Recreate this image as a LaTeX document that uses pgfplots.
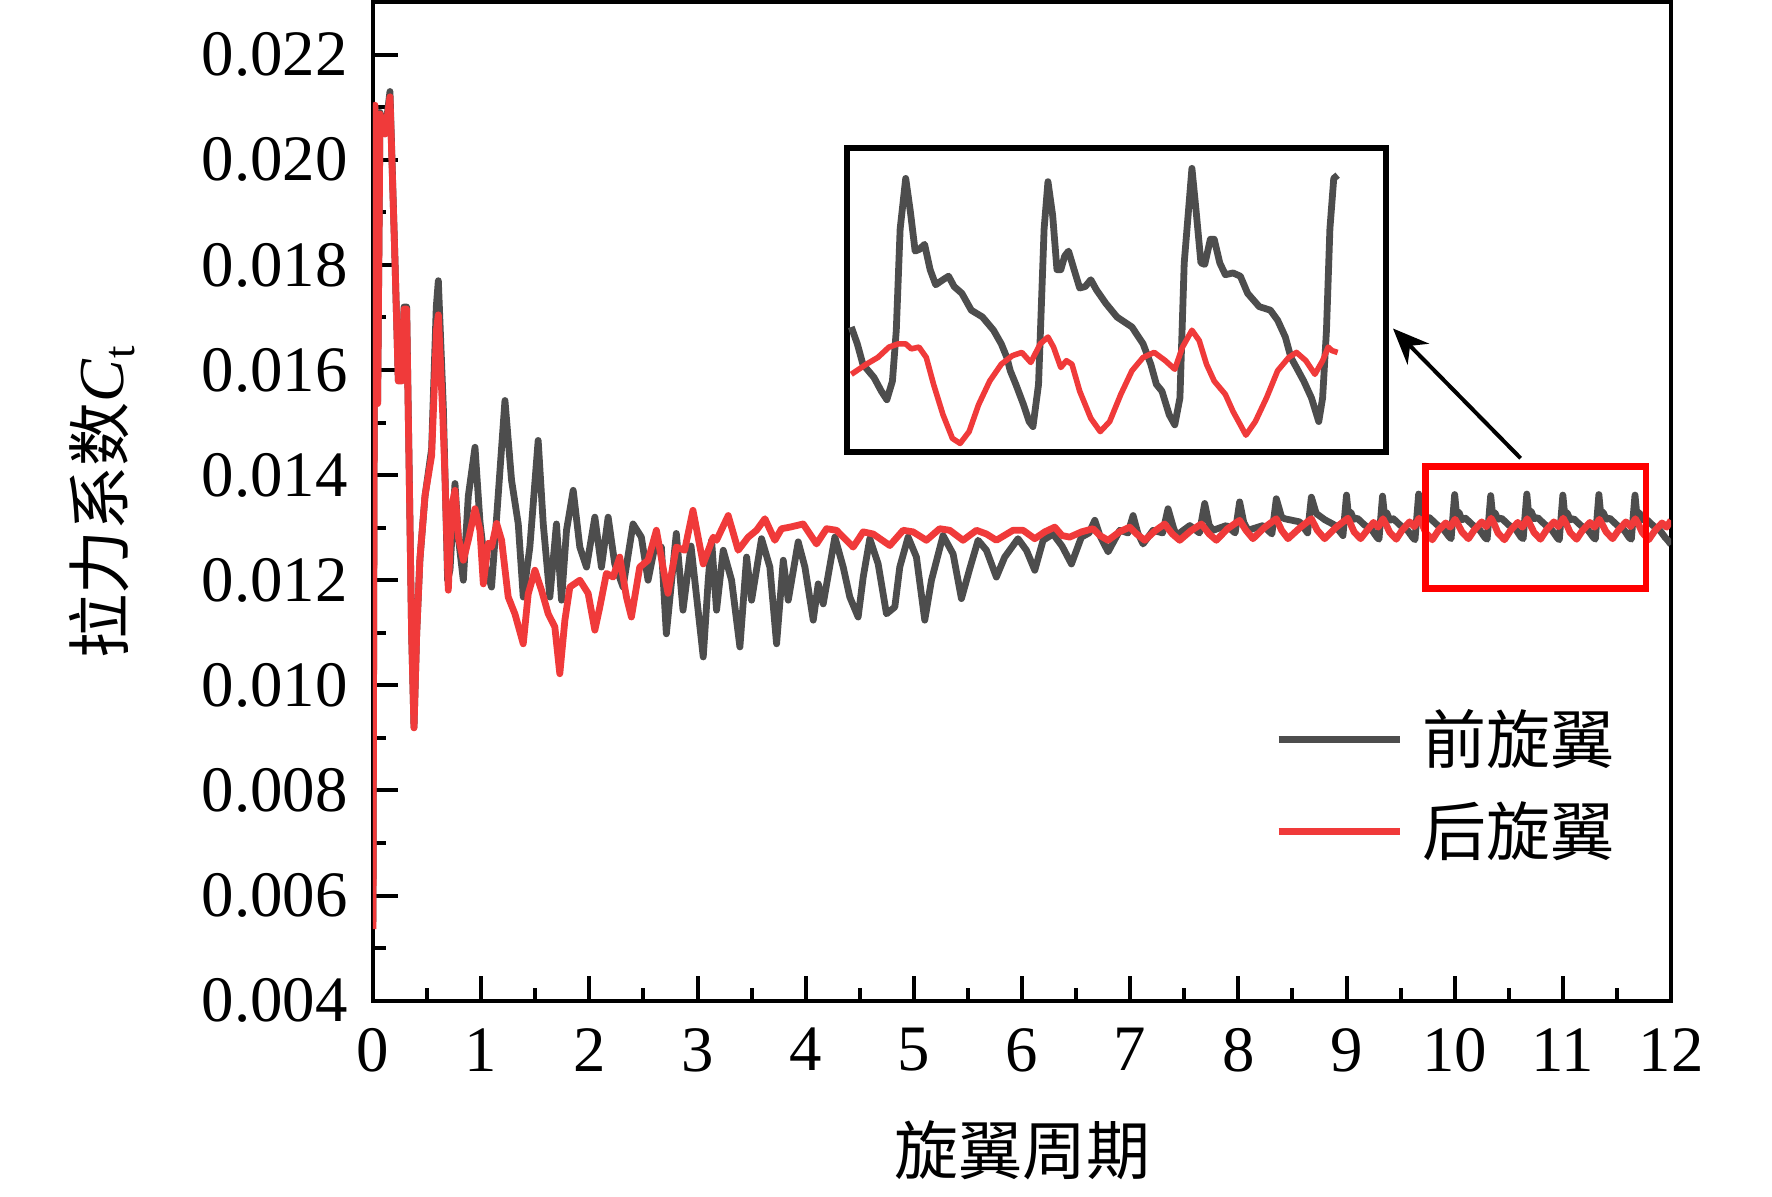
\documentclass[border=0pt]{standalone}
\usepackage{fontspec}
\setmainfont{Liberation Serif}
\newfontfamily\cjk{Noto Sans CJK SC}
\usepackage{pgfplots}
\usepackage{pgfplotstable}
\pgfplotsset{compat=1.18}
\usetikzlibrary{arrows.meta}
\definecolor{cgray}{RGB}{77,77,77}
\definecolor{cred}{RGB}{240,58,58}

\pgfplotstableread{
x y
0.000 0.00550
0.018 0.02100
0.043 0.01540
0.065 0.02090
0.111 0.02050
0.157 0.02130
0.203 0.01810
0.234 0.01580
0.265 0.01580
0.287 0.01720
0.311 0.01720
0.333 0.01430
0.357 0.01100
0.379 0.00920
0.404 0.01100
0.434 0.01240
0.481 0.01360
0.542 0.01450
0.585 0.01720
0.604 0.01770
0.650 0.01530
0.690 0.01200
0.712 0.01220
0.758 0.01384
0.789 0.01282
0.835 0.01200
0.881 0.01360
0.943 0.01453
0.989 0.01311
1.035 0.01230
1.096 0.01187
1.143 0.01320
1.220 0.01542
1.281 0.01390
1.343 0.01307
1.389 0.01168
1.450 0.01263
1.527 0.01466
1.574 0.01307
1.635 0.01168
1.696 0.01307
1.743 0.01162
1.789 0.01295
1.851 0.01371
1.912 0.01263
1.974 0.01225
2.051 0.01320
2.112 0.01225
2.174 0.01320
2.235 0.01231
2.312 0.01187
2.404 0.01307
2.481 0.01282
2.543 0.01200
2.604 0.01263
2.666 0.01263
2.712 0.01098
2.804 0.01289
2.866 0.01143
2.940 0.01265
3.053 0.01054
3.099 0.01200
3.130 0.01276
3.176 0.01143
3.238 0.01257
3.315 0.01200
3.392 0.01073
3.454 0.01244
3.500 0.01162
3.592 0.01279
3.669 0.01225
3.731 0.01079
3.793 0.01238
3.839 0.01162
3.931 0.01273
3.993 0.01225
4.070 0.01124
4.116 0.01193
4.162 0.01155
4.270 0.01282
4.347 0.01225
4.408 0.01168
4.485 0.01130
4.532 0.01206
4.593 0.01279
4.670 0.01231
4.747 0.01136
4.824 0.01149
4.870 0.01225
4.947 0.01282
5.024 0.01244
5.101 0.01124
5.163 0.01200
5.270 0.01285
5.363 0.01250
5.440 0.01165
5.517 0.01222
5.594 0.01276
5.671 0.01257
5.763 0.01206
5.840 0.01244
5.963 0.01279
6.041 0.01257
6.118 0.01219
6.195 0.01276
6.287 0.01288
6.370 0.01265
6.457 0.01231
6.549 0.01282
6.620 0.01290
6.673 0.01314
6.720 0.01285
6.796 0.01254
6.904 0.01295
6.980 0.01290
7.027 0.01323
7.070 0.01290
7.119 0.01269
7.212 0.01295
7.300 0.01290
7.350 0.01336
7.400 0.01300
7.427 0.01285
7.551 0.01304
7.640 0.01290
7.689 0.01346
7.730 0.01305
7.766 0.01295
7.889 0.01304
7.970 0.01290
8.012 0.01349
8.050 0.01310
8.089 0.01295
8.228 0.01304
8.310 0.01288
8.351 0.01355
8.400 0.01320
8.428 0.01317
8.567 0.01311
8.640 0.01290
8.675 0.01358
8.720 0.01327
8.800 0.01315
8.890 0.01305
8.967 0.01285
9.000 0.01362
9.017 0.01325
9.040 0.01329
9.067 0.01316
9.100 0.01318
9.167 0.01305
9.233 0.01296
9.280 0.01282
9.300 0.01278
9.333 0.01360
9.350 0.01326
9.373 0.01328
9.400 0.01314
9.433 0.01317
9.500 0.01304
9.567 0.01294
9.613 0.01281
9.633 0.01277
9.667 0.01364
9.684 0.01327
9.707 0.01330
9.734 0.01316
9.767 0.01319
9.834 0.01306
9.900 0.01296
9.947 0.01283
9.967 0.01279
10.000 0.01363
10.017 0.01326
10.040 0.01329
10.067 0.01315
10.100 0.01318
10.167 0.01305
10.233 0.01295
10.280 0.01281
10.300 0.01278
10.333 0.01361
10.350 0.01325
10.373 0.01328
10.400 0.01316
10.433 0.01318
10.500 0.01305
10.567 0.01296
10.613 0.01282
10.633 0.01279
10.667 0.01364
10.684 0.01326
10.707 0.01331
10.734 0.01317
10.767 0.01319
10.834 0.01306
10.900 0.01295
10.947 0.01281
10.967 0.01277
11.000 0.01362
11.017 0.01325
11.040 0.01328
11.067 0.01315
11.100 0.01317
11.167 0.01304
11.233 0.01295
11.280 0.01282
11.300 0.01278
11.333 0.01363
11.350 0.01326
11.373 0.01329
11.400 0.01316
11.433 0.01318
11.500 0.01305
11.567 0.01295
11.613 0.01281
11.633 0.01278
11.667 0.01362
11.684 0.01325
11.707 0.01328
11.734 0.01315
11.767 0.01317
11.834 0.01304
11.900 0.01294
11.947 0.01281
11.970 0.01276
12.000 0.01268
}\graydata

\pgfplotstableread{
x y
0.000 0.00536
0.018 0.02104
0.043 0.01536
0.065 0.02087
0.111 0.02049
0.157 0.02120
0.203 0.01809
0.234 0.01579
0.265 0.01579
0.287 0.01716
0.311 0.01716
0.333 0.01427
0.357 0.01099
0.379 0.00919
0.404 0.01099
0.434 0.01241
0.481 0.01361
0.542 0.01437
0.588 0.01678
0.604 0.01705
0.645 0.01514
0.665 0.01400
0.696 0.01181
0.727 0.01339
0.758 0.01371
0.789 0.01282
0.835 0.01238
0.881 0.01276
0.943 0.01336
0.989 0.01295
1.020 0.01193
1.066 0.01270
1.096 0.01263
1.143 0.01308
1.189 0.01276
1.250 0.01168
1.312 0.01136
1.389 0.01079
1.435 0.01174
1.497 0.01219
1.558 0.01181
1.620 0.01136
1.681 0.01111
1.727 0.01022
1.774 0.01124
1.820 0.01187
1.912 0.01200
1.989 0.01175
2.051 0.01105
2.097 0.01149
2.158 0.01213
2.220 0.01206
2.281 0.01244
2.343 0.01168
2.389 0.01130
2.466 0.01225
2.543 0.01238
2.620 0.01295
2.681 0.01225
2.727 0.01175
2.804 0.01263
2.881 0.01257
2.958 0.01333
3.053 0.01231
3.146 0.01282
3.176 0.01276
3.284 0.01323
3.376 0.01257
3.469 0.01282
3.546 0.01295
3.623 0.01317
3.715 0.01276
3.777 0.01298
3.854 0.01301
3.977 0.01307
4.100 0.01269
4.193 0.01298
4.285 0.01295
4.439 0.01263
4.532 0.01292
4.624 0.01288
4.778 0.01266
4.901 0.01295
4.993 0.01292
5.116 0.01276
5.239 0.01298
5.332 0.01295
5.455 0.01276
5.579 0.01295
5.671 0.01288
5.763 0.01276
5.917 0.01295
6.010 0.01295
6.118 0.01279
6.210 0.01292
6.303 0.01301
6.370 0.01285
6.441 0.01282
6.550 0.01292
6.657 0.01298
6.720 0.01285
6.796 0.01276
6.900 0.01292
6.996 0.01301
7.060 0.01288
7.135 0.01276
7.230 0.01294
7.319 0.01307
7.390 0.01288
7.458 0.01276
7.560 0.01294
7.658 0.01307
7.730 0.01288
7.797 0.01276
7.900 0.01298
8.012 0.01314
8.070 0.01295
8.135 0.01279
8.240 0.01300
8.351 0.01317
8.400 0.01295
8.459 0.01279
8.570 0.01300
8.675 0.01317
8.730 0.01295
8.798 0.01279
8.900 0.01300
9.013 0.01318
9.040 0.01306
9.070 0.01292
9.130 0.01279
9.187 0.01294
9.250 0.01310
9.293 0.01301
9.337 0.01317
9.370 0.01304
9.400 0.01291
9.460 0.01278
9.517 0.01296
9.583 0.01311
9.627 0.01302
9.670 0.01318
9.703 0.01305
9.733 0.01290
9.793 0.01277
9.850 0.01295
9.917 0.01309
9.960 0.01301
10.003 0.01316
10.037 0.01304
10.067 0.01292
10.127 0.01279
10.183 0.01296
10.250 0.01311
10.293 0.01302
10.337 0.01318
10.370 0.01305
10.400 0.01290
10.460 0.01277
10.517 0.01295
10.583 0.01310
10.627 0.01301
10.670 0.01317
10.703 0.01304
10.733 0.01291
10.793 0.01278
10.850 0.01296
10.917 0.01311
10.960 0.01302
11.003 0.01318
11.037 0.01305
11.067 0.01291
11.127 0.01278
11.183 0.01295
11.250 0.01310
11.293 0.01301
11.337 0.01316
11.370 0.01304
11.400 0.01292
11.460 0.01279
11.517 0.01296
11.583 0.01311
11.627 0.01302
11.670 0.01317
11.703 0.01305
11.733 0.01291
11.793 0.01277
11.850 0.01294
11.917 0.01309
11.960 0.01301
12.000 0.01314
}\reddata

\pgfplotstableread{
x y
9.873 0.013117
9.887 0.013060
9.900 0.012991
9.926 0.012946
9.943 0.012900
9.956 0.012871
9.969 0.012934
9.978 0.013106
9.987 0.013449
10.000 0.013620
10.011 0.013506
10.022 0.013374
10.032 0.013380
10.044 0.013397
10.057 0.013311
10.070 0.013260
10.087 0.013277
10.100 0.013289
10.113 0.013254
10.131 0.013231
10.153 0.013174
10.179 0.013151
10.205 0.013106
10.223 0.013060
10.236 0.013014
10.244 0.012969
10.257 0.012923
10.275 0.012854
10.288 0.012797
10.297 0.012780
10.310 0.012923
10.323 0.013449
10.332 0.013609
10.343 0.013494
10.353 0.013311
10.362 0.013311
10.371 0.013357
10.380 0.013374
10.393 0.013311
10.406 0.013249
10.419 0.013254
10.432 0.013277
10.445 0.013243
10.467 0.013197
10.493 0.013151
10.528 0.013117
10.554 0.013060
10.572 0.012991
10.585 0.012923
10.598 0.012900
10.615 0.012820
10.628 0.012786
10.640 0.012877
10.650 0.013334
10.668 0.013654
10.678 0.013506
10.689 0.013334
10.698 0.013329
10.711 0.013414
10.720 0.013414
10.733 0.013334
10.746 0.013294
10.764 0.013300
10.781 0.013289
10.798 0.013231
10.825 0.013186
10.851 0.013174
10.868 0.013140
10.886 0.013083
10.899 0.013014
10.916 0.012969
10.929 0.012934
10.947 0.012877
10.964 0.012797
10.973 0.012877
10.982 0.013106
10.990 0.013449
10.999 0.013620
11.008 0.013631
}\insetgray

\pgfplotstableread{
x y
9.873 0.012957
9.908 0.012991
9.935 0.013014
9.961 0.013049
9.983 0.013060
10.000 0.013060
10.013 0.013043
10.031 0.013049
10.048 0.013014
10.065 0.012923
10.087 0.012820
10.109 0.012740
10.127 0.012723
10.148 0.012763
10.170 0.012854
10.196 0.012934
10.223 0.012991
10.249 0.013020
10.271 0.013031
10.292 0.012997
10.314 0.013060
10.332 0.013083
10.345 0.013049
10.362 0.012980
10.375 0.013003
10.388 0.012991
10.406 0.012900
10.432 0.012808
10.454 0.012763
10.476 0.012797
10.502 0.012889
10.528 0.012969
10.554 0.013014
10.580 0.013031
10.606 0.013003
10.628 0.012974
10.646 0.013049
10.668 0.013106
10.685 0.013071
10.702 0.012991
10.720 0.012934
10.746 0.012889
10.764 0.012831
10.781 0.012786
10.794 0.012751
10.816 0.012797
10.842 0.012877
10.868 0.012969
10.894 0.013014
10.912 0.013031
10.934 0.013003
10.955 0.012957
10.973 0.013003
10.986 0.013049
10.995 0.013037
11.008 0.013031
}\insetred

\begin{document}
\begin{tikzpicture}
\useasboundingbox (-93.25pt,-48.85pt) rectangle (349.75pt,250.15pt);
\begin{axis}[
  at={(0pt,0pt)}, anchor=south west,
  scale only axis, width=324.5pt, height=249.6pt,
  xmin=0, xmax=12, ymin=0.004, ymax=0.023,
  xtick={0,1,2,3,4,5,6,7,8,9,10,11,12},
  ytick={0.004,0.006,0.008,0.010,0.012,0.014,0.016,0.018,0.020,0.022},
  minor x tick num=1, minor y tick num=1,
  tick align=inside, tick pos=left,
  major tick length=6.25pt, minor tick length=3.25pt,
  every tick/.style={black, line width=1pt},
  axis line style={line width=1pt},
  scaled y ticks=false,
  /pgf/number format/assume math mode=true,
  yticklabel style={/pgf/number format/.cd, fixed, fixed zerofill, precision=3, /tikz/.cd, xshift=-2.8pt},
  xticklabel style={yshift=-3.4pt},
  tick label style={font=\fontsize{16.2}{19}\selectfont},
  xlabel={\cjk 旋翼周期},
  ylabel={{\cjk 拉力系数}\textit{C}\textsubscript{t}},
  xlabel style={at={(axis description cs:0.5,-0.1502)}, anchor=center, font=\fontsize{16}{19}\selectfont},
  ylabel style={at={(axis description cs:-0.2088,0.5)}, anchor=center, font=\fontsize{16}{19}\selectfont},
  legend cell align=left,
  legend style={draw=none, fill=none, at={(axis description cs:0.695,0.2155)}, anchor=west,
    inner sep=0pt, outer sep=0pt, row sep=8.2pt, column sep=5pt,
    nodes={inner sep=0pt, font=\fontsize{16}{19}\selectfont\cjk}},
  legend image code/.code={\draw[#1] (0pt,0pt) -- (30.25pt,0pt);},
]
\addplot[cgray, line width=1.7pt, line join=round] table {\graydata};
\addlegendentry{前旋翼}
\addplot[cred, line width=1.7pt, line join=round] table {\reddata};
\addlegendentry{后旋翼}
\draw[red, line width=1.6pt] (axis cs:9.73,0.011844) rectangle (axis cs:11.77,0.014166);
\draw[black, line width=1pt, -{Stealth[length=9pt,width=7.5pt]}] (axis cs:10.61,0.01432) -- (axis cs:9.43,0.01679);
\end{axis}
\begin{axis}[
  at={(118.5pt,137.15pt)}, anchor=south west,
  scale only axis, width=134.75pt, height=76pt,
  xmin=9.863, xmax=11.121, ymin=0.012694, ymax=0.013723,
  xtick=\empty, ytick=\empty,
  axis line style={line width=1.5pt},
  axis background/.style={fill=white},
]
\addplot[cgray, line width=1.7pt, line join=round] table {\insetgray};
\addplot[cred, line width=1.4pt, line join=round] table {\insetred};
\end{axis}
\end{tikzpicture}
\end{document}
